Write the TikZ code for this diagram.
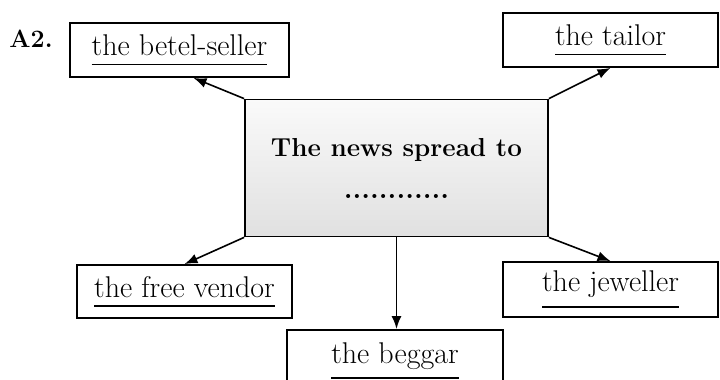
\documentclass[tikz,border=0pt]{standalone}
\usepackage{amsmath}
\usepackage{tikz}
\usetikzlibrary{arrows.meta}

\newcommand{\undl}[1]{\setbox0=\hbox{#1}\vtop{\copy0\kern8pt\hrule height 1.8pt width \wd0}}

\begin{document}
\begin{tikzpicture}[x=1pt, y=-1pt,
		person/.style={draw, line width=1.8pt, inner sep=0pt, font=\fontsize{30}{34}\selectfont},
		spread/.style={-{Latex[length=13pt,width=10pt]}, line width=1.6pt}]
		\useasboundingbox (0,0) rectangle (720,380);
		%Numero
		\node [font=\fontsize{25}{28}\selectfont\bfseries] (num) at (31,39) {A2.};
		%Riquadro centrale
		\node [draw, line width=1.8pt, minimum width=303pt, minimum height=137pt, inner sep=0pt,
			top color=gray!4, bottom color=gray!24, align=center,
			font=\fontsize{26}{30}\selectfont] (ctr) at (396.5,168)
			{\textbf{The news spread to}\\[12pt]{\fontsize{28}{30}\selectfont\bfseries............}};
		%Persone
		\node [person, minimum width=219pt, minimum height=54pt] (betel) at (179.5,50) {\undl{the betel-seller}};
		\node [person, minimum width=215pt, minimum height=54pt] (tailor) at (610.5,40) {\undl{the tailor}};
		\node [person, minimum width=215pt, minimum height=53pt] (vendor) at (184.5,291.5) {\undl{the free vendor}};
		\node [person, minimum width=215pt, minimum height=55pt] (jeweller) at (610.5,289.5) {\undl{the jeweller}};
		\node [person, minimum width=216pt, minimum height=62pt, anchor=north] (beggar) at (395,329) {\undl{the beggar}};
		%Frecce
		\draw [spread] (ctr.north west) -- ([xshift=14pt]betel.south);
		\draw [spread] (ctr.north east) -- (tailor.south);
		\draw [spread] (ctr.south west) -- (vendor.north);
		\draw [spread] (ctr.south east) -- (jeweller.north);
		\draw [spread] (ctr.south) -- (ctr.south |- beggar.north);
	\end{tikzpicture}
\end{document}
